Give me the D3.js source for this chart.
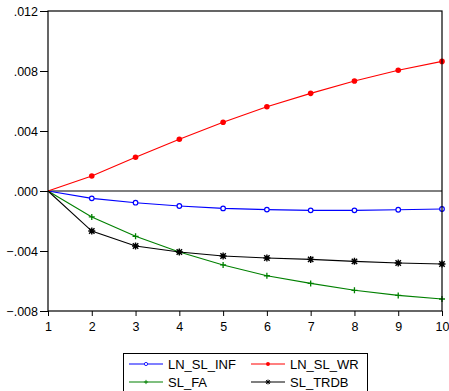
<!DOCTYPE html>
<html>
<head>
<meta charset="utf-8">
<script src="https://cdn.jsdelivr.net/npm/d3@7"></script>
<style>
  body { margin: 0; background: #fff; }
  svg { display: block; font-family: 'Liberation Sans', Arial, sans-serif; }
</style>
</head>
<body>
<svg id="chart" width="449" height="391"></svg>
<script>
// impulse response periods
const periods = [1, 2, 3, 4, 5, 6, 7, 8, 9, 10];
const yTicks = [-0.008, -0.004, 0, 0.004, 0.008, 0.012];

const lnSlInf = [0, -0.00049, -0.00078, -0.00100, -0.00116, -0.00124, -0.00129, -0.00129, -0.00125, -0.00120];
const lnSlWr = [0, 0.00100, 0.00225, 0.00345, 0.00458, 0.00562, 0.00651, 0.00733, 0.00805, 0.00864];
const slFa = [0, -0.00173, -0.00302, -0.00407, -0.00493, -0.00565, -0.00616, -0.00662, -0.00696, -0.00720];
const slTrdb = [0, -0.00267, -0.00367, -0.00407, -0.00433, -0.00447, -0.00456, -0.00469, -0.00480, -0.00487];

const series = [
  { name: 'LN_SL_INF', values: lnSlInf, color: '#0000ff', marker: 'open' },
  { name: 'LN_SL_WR', values: lnSlWr, color: '#ff0000', marker: 'dot' },
  { name: 'SL_FA', values: slFa, color: '#008000', marker: 'plus' },
  { name: 'SL_TRDB', values: slTrdb, color: '#000000', marker: 'star' },
];

const svg = d3.select('#chart');
const plotLeft = 48, plotRight = 442, plotTop = 11, plotBottom = 311;

const x = d3.scaleLinear().domain([1, 10]).range([plotLeft, plotRight]);
const y = d3.scaleLinear().domain([-0.008, 0.012]).range([plotBottom, plotTop]);

const fmt = (d) => d3.format('.3f')(d).replace('0.', '.');
const styleText = (g) => g.selectAll('text')
  .attr('font-size', 12.5).attr('fill', '#000')
  .attr('font-family', 'Liberation Sans, Arial, sans-serif');

svg.append('g')
  .attr('transform', `translate(0,${plotBottom})`)
  .call(d3.axisBottom(x).tickValues(periods).tickSize(5).tickPadding(6).tickFormat(d3.format('d')))
  .call((g) => g.select('.domain').remove())
  .call(styleText);

svg.append('g')
  .attr('transform', `translate(${plotLeft},0)`)
  .call(d3.axisLeft(y).tickValues(yTicks).tickSize(8).tickPadding(2).tickFormat(fmt))
  .call((g) => g.select('.domain').remove())
  .call(styleText);

// zero line
svg.append('line')
  .attr('x1', plotLeft).attr('x2', plotRight)
  .attr('y1', y(0)).attr('y2', y(0))
  .attr('stroke', '#000').attr('stroke-width', 1);

const line = d3.line()
  .x((d, i) => x(periods[i]))
  .y((d) => y(d));

function drawMarker(g, type, color, cx, cy, k) {
  k = k || 1;
  if (type === 'open') {
    g.append('circle').attr('cx', cx).attr('cy', cy).attr('r', 2.3 * k)
      .attr('fill', '#fff').attr('stroke', color).attr('stroke-width', 1.2 * k);
  } else if (type === 'dot') {
    g.append('circle').attr('cx', cx).attr('cy', cy).attr('r', 2.8 * k).attr('fill', color);
  } else if (type === 'plus') {
    const a = 3 * k;
    g.append('path').attr('d', `M${cx - a},${cy}H${cx + a}M${cx},${cy - a}V${cy + a}`)
      .attr('stroke', color).attr('stroke-width', 1.3 * k);
  } else {
    const a = 3.5 * k, b = 2.7 * k;
    g.append('path')
      .attr('d', `M${cx - a},${cy}H${cx + a}M${cx},${cy - a}V${cy + a}M${cx - b},${cy - b}L${cx + b},${cy + b}M${cx - b},${cy + b}L${cx + b},${cy - b}`)
      .attr('stroke', color).attr('stroke-width', 1.4 * k);
  }
}

const plot = svg.append('g');
series.forEach((s) => {
  plot.append('path').datum(s.values)
    .attr('d', line).attr('fill', 'none')
    .attr('stroke', s.color).attr('stroke-width', 1.1);
  const mg = plot.append('g');
  s.values.forEach((v, i) => {
    if (i === 0) return;
    drawMarker(mg, s.marker, s.color, x(periods[i]), y(v));
  });
});

// frame
svg.append('rect')
  .attr('x', plotLeft).attr('y', plotTop)
  .attr('width', plotRight - plotLeft).attr('height', plotBottom - plotTop)
  .attr('fill', 'none').attr('stroke', '#000').attr('stroke-width', 1.2);

// legend
const legend = svg.append('g');
legend.append('rect')
  .attr('x', 123.5).attr('y', 353.5).attr('width', 244).attr('height', 50)
  .attr('fill', '#fff').attr('stroke', '#000').attr('stroke-width', 1);

series.forEach((s, i) => {
  const col = i % 2, row = Math.floor(i / 2);
  const lx = col === 0 ? 129 : 251;
  const ly = 364 + row * 18;
  legend.append('line')
    .attr('x1', lx).attr('x2', lx + 34).attr('y1', ly).attr('y2', ly)
    .attr('stroke', s.color).attr('stroke-width', 1.1);
  drawMarker(legend, s.marker, s.color, lx + 17, ly, 0.7);
  legend.append('text')
    .attr('x', lx + 39).attr('y', ly + 5)
    .attr('font-size', 13).attr('fill', '#000')
    .text(s.name);
});
</script>
</body>
</html>
